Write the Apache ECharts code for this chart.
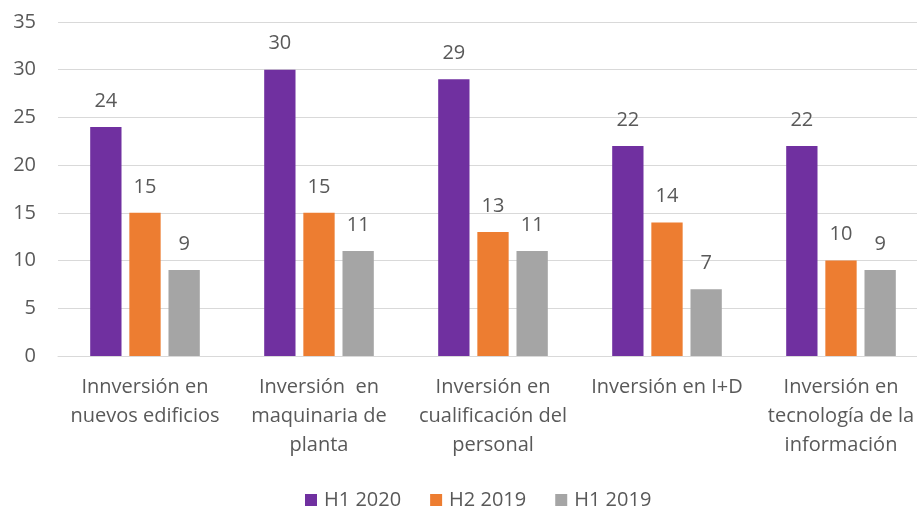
<!DOCTYPE html>
<html>
<head>
<meta charset="utf-8">
<script src="https://cdn.jsdelivr.net/npm/echarts@6/dist/echarts.min.js"></script>
<style>
  html, body { margin: 0; padding: 0; background: #fff; overflow: hidden; }
  #chart { width: 928px; height: 508px; }
</style>
</head>
<body>
<div id="chart"></div>
<script>
const categories = [
  'Innversión en\nnuevos edificios',
  'Inversión  en\nmaquinaria de\nplanta',
  'Inversión en\ncualificación del\npersonal',
  'Inversión en I+D',
  'Inversión en\ntecnología de la\ninformación'
];
const h1_2020 = [24, 30, 29, 22, 22];
const h2_2019 = [15, 15, 13, 14, 10];
const h1_2019 = [9, 11, 11, 7, 9];
const yTicks = { min: 0, max: 35, interval: 5 };

const font = 'Open Sans';
const textColor = '#595959';

function barSeries(name, data, color) {
  return {
    name: name,
    type: 'bar',
    data: data,
    barGap: '25%',
    barCategoryGap: '37%',
    itemStyle: { color: color },
    label: {
      show: true,
      position: 'top',
      distance: 16,
      color: textColor,
      fontFamily: font,
      fontSize: 20
    }
  };
}

// the plot runs a little past the right edge of the picture
const chart = echarts.init(document.getElementById('chart'));
chart.setOption({
  animation: false,
  grid: { left: 58, right: 0, top: 22, bottom: 152 },
  legend: {
    top: 485,
    left: 300,
    itemWidth: 12,
    itemHeight: 12,
    itemGap: 29,
    icon: 'rect',
    textStyle: { color: textColor, fontFamily: font, fontSize: 20, padding: [0, 0, 0, 2] }
  },
  xAxis: {
    type: 'category',
    data: categories,
    axisTick: { show: false },
    axisLine: { lineStyle: { color: '#D9D9D9' } },
    axisLabel: {
      color: textColor,
      fontFamily: font,
      fontSize: 20,
      lineHeight: 29,
      margin: 17,
      interval: 0
    }
  },
  yAxis: {
    type: 'value',
    min: yTicks.min,
    max: yTicks.max,
    interval: yTicks.interval,
    axisLine: { show: false },
    axisTick: { show: false },
    splitLine: { lineStyle: { color: '#D9D9D9' } },
    axisLabel: { color: textColor, fontFamily: font, fontSize: 20, margin: 22 }
  },
  series: [
    barSeries('H1 2020', h1_2020, '#7030A0'),
    barSeries('H2 2019', h2_2019, '#ED7D31'),
    barSeries('H1 2019', h1_2019, '#A5A5A5')
  ]
});
</script>
</body>
</html>
